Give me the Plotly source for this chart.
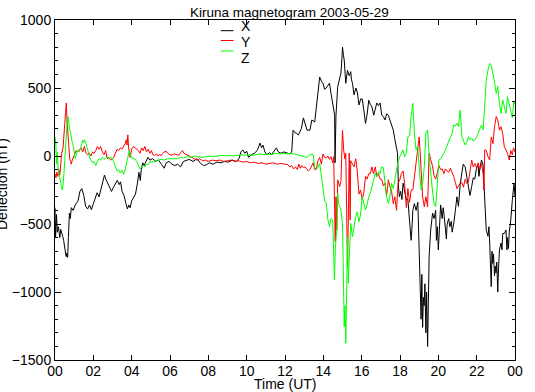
import plotly.graph_objects as go

# ---------------- data (hours UT, deflection nT) ----------------
T_X = [0.00,0.03,0.08,0.12,0.18,0.25,0.30,0.35,0.40,0.45,0.52,0.58,0.62,0.66,0.70,0.75,0.80,0.85,0.95,1.05,
       1.20,1.30,1.40,1.50,1.60,1.70,1.80,1.90,2.00,2.10,2.20,2.30,2.40,2.50,2.58,2.65,2.75,2.85,2.95,3.05,
       3.15,3.25,3.35,3.42,3.50,3.60,3.70,3.78,3.85,3.92,4.00,4.10,4.20,4.30,4.38,4.45,4.50,4.58,4.65,4.75,
       4.85,4.95,5.10,5.25,5.40,5.55,5.70,5.80,5.95,6.10,6.25,6.40,6.55,6.70,6.85,7.00,7.20,7.40,7.60,7.75,
       7.90,8.05,8.25,8.45,8.65,8.85,9.05,9.25,9.45,9.60,9.70,9.80,9.90,10.00,10.10,10.25,10.40,10.55,10.70,10.78,
       10.85,10.95,11.05,11.20,11.30,11.45,11.55,11.65,11.80,11.95,12.10,12.25,12.35,12.42,12.53,12.62,12.70,12.85,12.96,13.05,
       13.15,13.30,13.40,13.55,13.64,13.73,13.81,13.90,13.98,14.07,14.15,14.24,14.32,14.40,14.50,14.54,14.59,14.61,14.66,14.75,
       14.85,14.92,14.97,15.00,15.05,15.09,15.17,15.26,15.35,15.43,15.47,15.52,15.60,15.70,15.77,15.86,15.95,16.03,16.11,16.20,
       16.28,16.37,16.45,16.54,16.63,16.70,16.79,16.88,16.96,17.05,17.13,17.22,17.30,17.39,17.47,17.56,17.65,17.72,17.82,17.87,
       17.92,17.97,18.03,18.10,18.16,18.24,18.33,18.41,18.50,18.58,18.62,18.67,18.75,18.84,18.93,19.00,19.05,19.10,19.14,19.18,
       19.22,19.26,19.30,19.35,19.39,19.44,19.48,19.52,19.60,19.70,19.78,19.86,19.90,19.95,20.00,20.03,20.12,20.20,20.25,20.29,
       20.37,20.42,20.46,20.54,20.60,20.68,20.72,20.80,20.89,20.97,21.05,21.14,21.23,21.30,21.40,21.48,21.57,21.65,21.74,21.82,
       21.90,21.99,22.07,22.12,22.16,22.25,22.33,22.38,22.42,22.50,22.59,22.64,22.68,22.72,22.76,22.80,22.84,22.88,22.93,22.97,
       23.01,23.05,23.10,23.14,23.19,23.27,23.32,23.36,23.44,23.53,23.58,23.61,23.66,23.70,23.78,23.86,23.92,23.95,24.00]
X_VALS = [-380,-600,-430,-560,-520,-600,-540,-560,-590,-620,-700,-740,-715,-745,-600,-420,-460,-380,-400,-360,
          -330,-260,-240,-290,-370,-390,-360,-395,-350,-300,-270,-300,-250,-190,-140,-170,-200,-240,-260,-230,
          -200,-180,-210,-190,-260,-290,-350,-390,-360,-380,-330,-300,-280,-200,-120,-180,-100,-50,-70,-40,
          -10,-30,-20,-40,-30,-60,-90,-50,-40,-60,-70,-60,-80,-40,-30,-25,-40,-20,-55,-70,
          -65,-50,-60,-45,-50,-40,-45,-30,-40,-20,30,45,20,35,-10,10,20,40,95,60,
          80,30,10,25,10,40,60,30,20,30,25,15,30,190,170,165,154,200,280,230,
          190,190,265,250,360,480,580,550,535,490,500,520,535,460,360,315,300,-50,300,510,
          580,610,720,800,740,705,535,630,590,620,560,535,450,500,470,375,420,420,340,240,
          300,410,380,360,300,340,390,370,390,300,290,265,310,300,260,230,190,130,70,20,
          -230,-300,-260,-320,-200,-250,-320,-320,-470,-620,-540,-400,-350,-400,-340,-790,-900,-1200,-870,-1260,
          -1040,-1100,-940,-1300,-1000,-1400,-1080,-740,-545,-420,-460,-400,-620,-520,-690,-600,-360,-460,-380,-420,
          -560,-610,-500,-460,-520,-480,-560,-500,-400,-300,-370,-210,-120,-60,-80,-150,-225,-290,-225,-160,
          -170,-90,-60,-150,-100,-30,-60,-200,-325,-545,-590,-520,-640,-800,-960,-700,-790,-720,-880,-810,
          -860,-780,-1000,-830,-690,-640,-690,-570,-570,-545,-690,-600,-680,-560,-470,-325,-250,-200,-300]

T_Y = [0.00,0.05,0.10,0.15,0.20,0.25,0.30,0.35,0.42,0.46,0.51,0.55,0.59,0.63,0.68,0.72,0.77,0.81,0.85,0.90,
       0.94,1.02,1.10,1.19,1.28,1.36,1.45,1.53,1.62,1.70,1.79,1.87,1.96,2.04,2.13,2.21,2.30,2.38,2.47,2.56,
       2.64,2.73,2.81,2.90,2.98,3.07,3.15,3.24,3.32,3.41,3.49,3.58,3.66,3.72,3.76,3.80,3.84,3.92,4.00,4.09,
       4.17,4.26,4.35,4.43,4.52,4.60,4.69,4.77,4.86,4.95,5.03,5.10,5.20,5.30,5.37,5.45,5.54,5.62,5.70,5.80,
       5.88,6.00,6.10,6.22,6.35,6.45,6.56,6.65,6.73,6.85,7.00,7.10,7.24,7.40,7.55,7.70,7.85,8.00,8.20,8.40,
       8.60,8.80,9.00,9.20,9.40,9.60,9.80,10.00,10.20,10.40,10.60,10.80,11.00,11.20,11.40,11.60,11.80,12.00,12.15,12.25,
       12.35,12.45,12.55,12.65,12.72,12.80,12.87,12.96,13.04,13.13,13.22,13.30,13.38,13.47,13.55,13.64,13.72,13.81,13.90,13.98,
       14.07,14.15,14.24,14.32,14.40,14.49,14.54,14.58,14.62,14.66,14.70,14.75,14.85,14.92,14.97,15.00,15.06,15.12,15.17,15.22,
       15.26,15.30,15.35,15.40,15.43,15.52,15.60,15.69,15.77,15.86,15.94,16.03,16.11,16.20,16.28,16.37,16.45,16.54,16.62,16.71,
       16.79,16.88,16.96,17.05,17.13,17.22,17.30,17.35,17.39,17.47,17.56,17.65,17.73,17.82,17.90,17.99,18.07,18.16,18.24,18.33,
       18.41,18.50,18.58,18.67,18.75,18.84,18.92,19.00,19.05,19.10,19.18,19.27,19.35,19.44,19.48,19.52,19.60,19.69,19.78,19.86,
       19.95,20.03,20.12,20.20,20.29,20.37,20.46,20.54,20.63,20.72,20.80,20.89,20.97,21.05,21.14,21.23,21.31,21.40,21.48,21.57,
       21.65,21.74,21.82,21.91,22.00,22.08,22.16,22.25,22.34,22.38,22.42,22.50,22.59,22.68,22.76,22.85,22.93,23.02,23.10,23.19,
       23.27,23.36,23.44,23.53,23.61,23.70,23.78,23.86,23.92,24.00]
Y_VALS = [-130,-160,-120,-150,-100,-140,-60,20,60,190,240,320,390,250,150,40,-20,-40,-60,-30,
          -20,10,40,30,50,60,30,70,20,10,20,0,30,20,40,70,50,70,30,10,
          40,-20,-10,-30,-20,-10,20,50,40,60,50,70,90,120,80,155,60,-10,50,70,
          60,50,40,20,60,40,70,30,50,20,40,10,5,15,0,10,5,20,30,35,
          20,10,5,15,10,5,25,40,20,10,0,-10,-20,-30,-20,-35,-30,-40,-30,-35,
          -30,-40,-35,-30,-40,-35,-45,-40,-50,-45,-55,-50,-60,-55,-50,-60,-55,-60,-65,-80,
          -70,-95,-80,-100,-60,-90,-70,-85,-80,-95,-110,-100,-80,-50,-100,-95,-35,-10,-60,15,
          -10,-15,0,-25,-5,-50,-5,-250,-630,-300,-545,-175,-225,-180,120,190,45,-20,20,-400,
          -815,-500,20,-470,-35,-60,-80,-20,-110,-280,-250,-320,-270,-150,-170,-130,-130,-80,-130,-80,
          -150,-130,-170,-175,-220,-200,-290,-240,-175,-220,-260,-350,-300,-400,-200,-175,-130,-110,-200,-380,
          -240,-340,-250,-250,-150,-30,70,140,30,-120,-300,-373,-300,-373,-200,20,-25,-70,-145,-170,
          -120,-70,-100,-95,-130,-95,-110,-120,-90,-120,-150,-195,-240,-220,-200,-195,-230,-170,-200,-190,
          -100,-30,-80,-55,-90,-50,-100,-55,-130,-250,45,40,-5,-30,140,90,215,290,265,190,
          215,165,70,45,20,-30,40,10,60,30]

T_Z = [0.00,0.04,0.08,0.12,0.17,0.22,0.26,0.30,0.34,0.38,0.43,0.47,0.51,0.55,0.59,0.63,0.68,0.72,0.77,0.81,
       0.85,0.90,0.94,0.98,1.02,1.06,1.11,1.19,1.28,1.36,1.45,1.50,1.53,1.62,1.70,1.79,1.87,1.96,2.04,2.13,
       2.21,2.30,2.38,2.47,2.56,2.64,2.73,2.81,2.90,2.98,3.07,3.15,3.24,3.32,3.41,3.49,3.58,3.66,3.75,3.80,
       3.88,3.92,4.00,4.09,4.17,4.26,4.35,4.43,4.52,4.60,4.69,4.77,4.86,4.95,5.03,5.20,5.37,5.54,5.70,5.88,
       6.05,6.22,6.40,6.56,6.73,6.90,7.10,7.30,7.50,7.70,7.90,8.10,8.30,8.50,8.70,8.90,9.10,9.30,9.50,9.70,
       9.90,10.10,10.30,10.50,10.70,10.90,11.10,11.30,11.50,11.70,11.90,12.10,12.30,12.50,12.70,12.85,13.00,13.15,13.30,13.47,
       13.55,13.64,13.72,13.81,13.90,13.98,14.03,14.07,14.15,14.24,14.32,14.40,14.49,14.54,14.58,14.63,14.70,14.75,14.80,14.86,
       14.92,15.00,15.06,15.09,15.13,15.17,15.22,15.26,15.30,15.35,15.43,15.52,15.60,15.69,15.77,15.86,15.94,16.03,16.11,16.20,
       16.28,16.37,16.45,16.54,16.62,16.71,16.79,16.88,16.96,17.05,17.13,17.22,17.30,17.39,17.47,17.56,17.65,17.73,17.82,17.90,
       17.99,18.07,18.16,18.24,18.33,18.41,18.50,18.58,18.67,18.75,18.84,18.92,19.00,19.05,19.10,19.18,19.27,19.35,19.44,19.52,
       19.60,19.69,19.78,19.86,19.95,20.03,20.12,20.20,20.29,20.37,20.46,20.54,20.63,20.72,20.80,20.89,20.97,21.05,21.14,21.23,
       21.31,21.40,21.48,21.57,21.65,21.74,21.82,21.91,22.00,22.08,22.16,22.25,22.34,22.42,22.50,22.59,22.68,22.76,22.85,22.93,
       23.02,23.10,23.19,23.27,23.36,23.44,23.53,23.61,23.70,23.78,23.86,23.94,24.00]
Z_VALS = [140,100,-60,30,-100,-130,-170,-200,-225,-250,-200,-120,-20,60,170,240,290,230,190,170,
          130,100,80,40,10,-20,15,40,30,80,115,100,120,90,40,0,-30,-50,-40,-70,
          -40,-20,-30,-10,-25,-15,-5,-20,-10,-15,-40,-80,-110,-100,-125,-105,-135,-100,-40,0,
          40,10,-15,-20,-20,-40,-70,-95,-80,-70,-80,-60,-65,-40,-45,-35,-30,-25,-30,-20,
          -20,-15,-20,-10,-15,-5,-10,0,-5,-10,-5,0,-5,0,5,0,5,0,5,10,
          5,10,5,10,15,10,15,10,20,15,20,15,20,15,5,0,-5,-10,10,10,
          -90,-95,-85,-55,-160,-225,-270,-330,-348,-470,-520,-458,-470,-740,-911,-665,-544,-275,-350,-373,
          -397,-495,-860,-1255,-1100,-1377,-960,-590,-935,-788,-495,-593,-520,-447,-410,-483,-434,-299,-348,-397,
          -360,-299,-275,-225,-176,-127,-152,-115,-130,-78,-85,-225,-299,-348,-300,-200,-240,-176,-100,-40,
          -5,20,45,-5,20,142,150,289,387,167,45,70,-54,-152,-250,-201,-78,167,191,-5,
          -152,-250,-348,-373,-201,-29,-20,-5,20,45,80,118,140,167,228,220,240,216,338,142,
          118,81,100,142,120,130,110,118,140,167,200,228,191,412,559,632,681,669,608,547,
          461,510,387,314,412,363,314,436,387,330,280,400,380]

X_TICK_VALS = [0, 2, 4, 6, 8, 10, 12, 14, 16, 18, 20, 22, 24]
X_TICK_TEXT = ["00", "02", "04", "06", "08", "10", "12", "14", "16", "18", "20", "22", "00"]
Y_TICK_VALS = [-1500, -1000, -500, 0, 500, 1000]

SERIES_NAMES = ["X", "Y", "Z"]
SERIES_COLORS = ["#000000", "#ff0000", "#00ff00"]

TITLE = "Kiruna magnetogram 2003-05-29"
X_TITLE = "Time (UT)"
Y_TITLE = "Deflection (nT)"

# ---------------- figure ----------------
W, H = 535, 392
L, R, T, B = 52, 14, 20, 32
PW, PH = W - L - R, H - T - B

def px(xp):
    return (xp - L) / PW

def py(yp):
    return (H - B - yp) / PH

FONT = "Liberation Sans, Arial, Helvetica, sans-serif"
FS = 14

fig = go.Figure()
for tt, vv, name, col in zip([T_X, T_Y, T_Z], [X_VALS, Y_VALS, Z_VALS], SERIES_NAMES, SERIES_COLORS):
    fig.add_trace(go.Scatter(x=tt, y=vv, mode="lines", name=name,
                             line=dict(color=col, width=1), hoverinfo="skip"))

annotations = [
    dict(text=TITLE, x=px(188), y=1, xref="paper", yref="paper", xanchor="left",
         yanchor="bottom", yshift=-2, showarrow=False, font=dict(size=13.5, family=FONT, color="black")),
    dict(text=X_TITLE, x=0.5, y=0, xref="paper", yref="paper", xanchor="center",
         yanchor="middle", yshift=-24, showarrow=False, font=dict(size=FS, family=FONT, color="black")),
    dict(text=Y_TITLE, x=0, y=py(184), xref="paper", yref="paper", xanchor="center",
         yanchor="middle", xshift=-53, textangle=-90, showarrow=False,
         font=dict(size=FS, family=FONT, color="black")),
]
legend_line_y = [30.7, 40.5, 51.0]
legend_text_y = [25.5, 41.5, 58.0]
shapes = []
for name, col, ly, ty in zip(SERIES_NAMES, SERIES_COLORS, legend_line_y, legend_text_y):
    shapes.append(dict(type="line", xref="paper", yref="paper", x0=px(221), x1=px(234),
                       y0=py(ly), y1=py(ly), line=dict(color=col, width=1)))
    annotations.append(dict(text=name, x=px(240), y=py(ty), xref="paper", yref="paper",
                            xanchor="left", yanchor="middle", showarrow=False,
                            font=dict(size=FS, family=FONT, color="black")))

fig.update_layout(
    width=W, height=H,
    margin=dict(l=L, r=R, t=T, b=B, pad=0),
    plot_bgcolor="white", paper_bgcolor="white",
    showlegend=False,
    font=dict(family=FONT, size=FS, color="black"),
    annotations=annotations, shapes=shapes,
    xaxis=dict(range=[0, 24], tickmode="array", tickvals=X_TICK_VALS, ticktext=X_TICK_TEXT,
               ticks="inside", ticklen=5, tickwidth=1, tickcolor="black", ticklabelstandoff=-2,
               showline=True, linecolor="black", linewidth=1, mirror="ticks",
               showgrid=False, zeroline=False, tickfont=dict(size=FS, family=FONT, color="black")),
    yaxis=dict(range=[-1500, 1000], tickmode="array", tickvals=Y_TICK_VALS,
               ticks="inside", ticklen=6, tickwidth=1, tickcolor="black",
               minor=dict(dtick=100, ticks="inside", ticklen=3, tickcolor="black", tickwidth=1, showgrid=False),
               showline=True, linecolor="black", linewidth=1, mirror="ticks",
               showgrid=False, zeroline=False, tickfont=dict(size=FS, family=FONT, color="black")),
)

fig.write_html("out.html", config={"displayModeBar": False, "staticPlot": True},
               post_script="document.body.style.margin='0px';document.body.style.overflow='hidden';")
